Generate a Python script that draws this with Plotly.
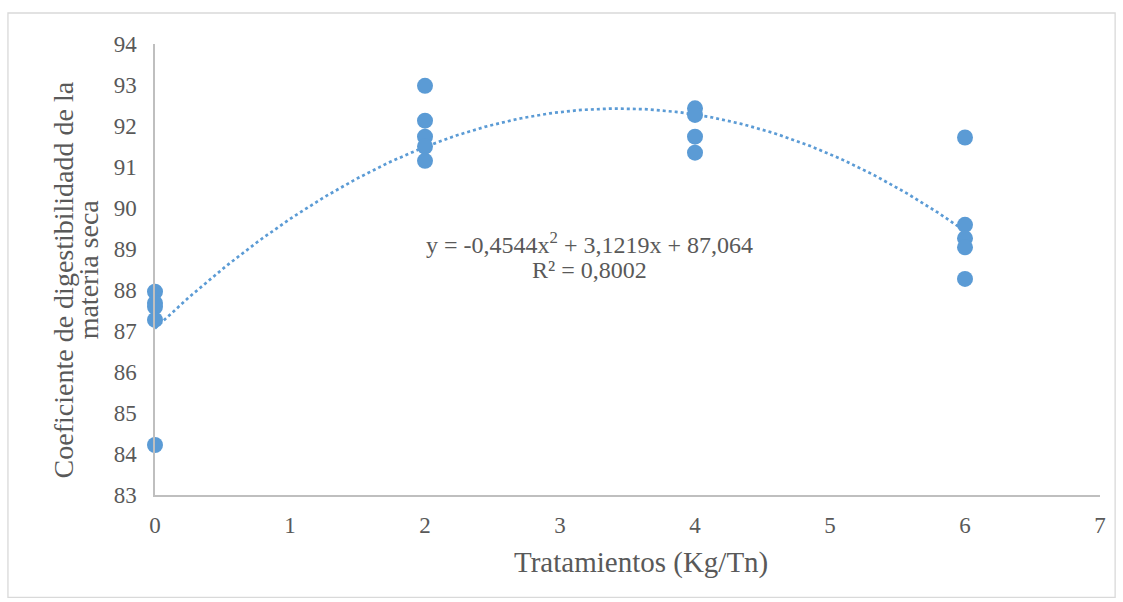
import plotly.graph_objects as go
import numpy as np

# Data
x_vals = [0, 0, 0, 0, 0,
          2, 2, 2, 2, 2,
          4, 4, 4, 4,
          6, 6, 6, 6, 6]
y_vals = [87.96, 87.68, 87.59, 87.27, 84.22,
          92.98, 92.13, 91.74, 91.50, 91.15,
          92.43, 92.27, 91.74, 91.35,
          91.72, 89.59, 89.26, 89.04, 88.27]

# Polynomial trendline coefficients shown on the chart (a, b, c)
trend_coefs = [-0.4544, 3.1219, 87.064]
eq_line1 = "y = -0,4544x<sup>2</sup> + 3,1219x + 87,064"
eq_line2 = "R² = 0,8002"

x_ticks = [0, 1, 2, 3, 4, 5, 6, 7]
y_ticks = [83, 84, 85, 86, 87, 88, 89, 90, 91, 92, 93, 94]

x_title = "Tratamientos (Kg/Tn)"
y_title_1 = "Coeficiente de digestibilidadd de la"
y_title_2 = "materia seca"

BLUE = "#5B9BD5"
FONT = "'Liberation Serif', 'Times New Roman', serif"
TXT = "#595959"

xt = np.linspace(min(x_vals), max(x_vals), 200)
yt = np.polyval(trend_coefs, xt)

fig = go.Figure()
fig.add_trace(go.Scatter(x=xt, y=yt, mode="lines",
                         line=dict(color=BLUE, width=2.7, dash="dot"),
                         hoverinfo="skip", showlegend=False))
fig.add_trace(go.Scatter(x=x_vals, y=y_vals, mode="markers",
                         marker=dict(color=BLUE, size=16),
                         cliponaxis=False, showlegend=False))

def ann(text, x, y, size, angle=0):
    fig.add_annotation(x=x, y=y, xref="paper", yref="paper", text=text,
                       showarrow=False, align="center", textangle=angle,
                       xanchor="center", yanchor="middle",
                       font=dict(family=FONT, size=size, color=TXT))

ann(eq_line1, 0.46, 0.558, 24)
ann(eq_line2, 0.46, 0.498, 24)
ann(y_title_1, -0.0974, 0.478, 28, -90)
ann(y_title_2, -0.0700, 0.500, 28, -90)
ann(x_title, 0.514, -0.1506, 29)

fig.add_shape(type="rect", xref="paper", yref="paper",
              x0=-0.1556, x1=1.016, y0=-0.227, y1=1.0687,
              line=dict(color="#D9D9D9", width=1.3), layer="below")

fig.update_layout(
    width=1123, height=602,
    margin=dict(l=155, r=23, t=43.5, b=107),
    paper_bgcolor="white", plot_bgcolor="white",
    font=dict(family=FONT, size=23, color=TXT),
    xaxis=dict(range=[0, 7], tickvals=x_ticks, showgrid=False, zeroline=False,
               showline=True, linecolor="#BFBFBF", linewidth=1.5,
               ticks="", ticklabelstandoff=9,
               tickfont=dict(family=FONT, size=23, color=TXT)),
    yaxis=dict(range=[83, 94], tickvals=y_ticks, showgrid=False, zeroline=False,
               showline=True, linecolor="#BFBFBF", linewidth=1.5,
               ticks="", ticklabelstandoff=12,
               tickfont=dict(family=FONT, size=23, color=TXT)),
)

fig.write_html("out.html")
